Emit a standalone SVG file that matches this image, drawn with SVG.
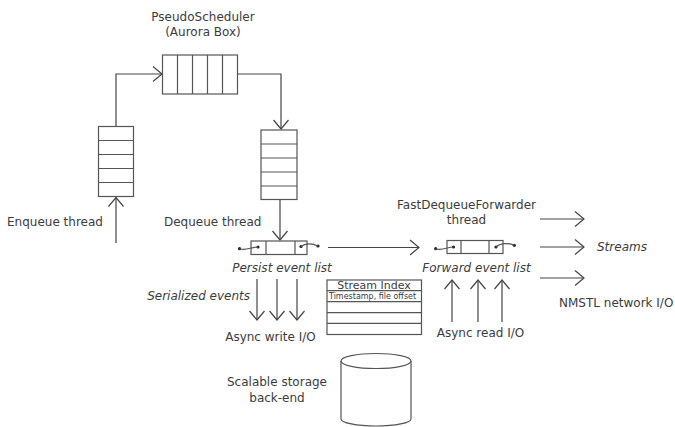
<svg xmlns="http://www.w3.org/2000/svg" width="675" height="427" viewBox="0 0 675 427">
<style>
text{font-family:"DejaVu Sans","Verdana",sans-serif;font-size:12px;fill:#3c3c3c}
.it{font-style:italic}
.box{fill:#fff;stroke:#555;stroke-width:1.2}
.ln{fill:none;stroke:#555;stroke-width:1.2}
.c{fill:none;stroke:#444;stroke-width:1.2}
.dot{fill:#222}
</style>
<defs>
<marker id="arr" markerUnits="userSpaceOnUse" viewBox="0 0 11 17" refX="10" refY="8.5" markerWidth="11" markerHeight="17" orient="auto">
<path d="M1,1 L10,8.5 L1,16" fill="none" stroke="#444" stroke-width="1.2"/>
</marker>
</defs>
<rect width="675" height="427" fill="#fff"/>

<g id="connectors">
<path class="c" d="M116,126.5 V74 H162" marker-end="url(#arr)"/>
<path class="c" d="M237.5,74 H281 V129" marker-end="url(#arr)"/>
<path class="c" d="M116,243 V197.5" marker-end="url(#arr)"/>
<path class="c" d="M280,199.5 V240" marker-end="url(#arr)"/>
<path class="c" d="M328,247.5 H419" marker-end="url(#arr)"/>
<path class="c" d="M257,279 V320" marker-end="url(#arr)"/>
<path class="c" d="M277,279 V320" marker-end="url(#arr)"/>
<path class="c" d="M297,279 V320" marker-end="url(#arr)"/>
<path class="c" d="M452,322 V280" marker-end="url(#arr)"/>
<path class="c" d="M478,322 V280" marker-end="url(#arr)"/>
<path class="c" d="M502,322 V280" marker-end="url(#arr)"/>
<path class="c" d="M540,219 H584" marker-end="url(#arr)"/>
<path class="c" d="M540,247 H584" marker-end="url(#arr)"/>
<path class="c" d="M540,278 H584" marker-end="url(#arr)"/>
</g>

<g id="pseudo-scheduler">
<rect class="box" x="162.5" y="55" width="75" height="39"/>
<path class="ln" d="M177.5,55V94M192.5,55V94M207.5,55V94M222.5,55V94"/>
<text x="203" y="21" text-anchor="middle">PseudoScheduler</text>
<text x="203" y="36" text-anchor="middle">(Aurora Box)</text>
</g>

<g id="enqueue-queue">
<rect class="box" x="98.5" y="126.5" width="35" height="70"/>
<path class="ln" d="M98.5,140.5H133.5M98.5,154.5H133.5M98.5,168.5H133.5M98.5,182.5H133.5"/>
<text x="7" y="226">Enqueue thread</text>
</g>

<g id="dequeue-queue">
<rect class="box" x="261" y="130" width="36" height="69.5"/>
<path class="ln" d="M261,144H297M261,158H297M261,172H297M261,186H297"/>
<text x="164" y="226">Dequeue thread</text>
</g>

<g id="persist-list">
<rect class="box" x="251" y="241" width="56" height="13.5"/>
<path class="ln" d="M266,241V254.5M295,241V254.5"/>
<circle class="dot" cx="258" cy="247" r="1.6"/>
<circle class="dot" cx="239.5" cy="248.7" r="1.6"/>
<path class="ln" d="M239.5,248.7 C246,251 251,247 258,247" stroke-width="1"/>
<circle class="dot" cx="301" cy="246.5" r="1.6"/>
<circle class="dot" cx="318" cy="246" r="1.6"/>
<path class="ln" d="M301,246.5 C305,243 312,243 318,246" stroke-width="1"/>
<text class="it" x="282" y="272" text-anchor="middle">Persist event list</text>
<text class="it" x="250" y="300" text-anchor="end">Serialized events</text>
<text x="270.5" y="341" text-anchor="middle">Async write I/O</text>
</g>

<g id="forward-list">
<rect class="box" x="447" y="240.5" width="56" height="13"/>
<path class="ln" d="M461,240.5V253.5M489,240.5V253.5"/>
<circle class="dot" cx="453.5" cy="247" r="1.6"/>
<circle class="dot" cx="435.7" cy="248.7" r="1.6"/>
<path class="ln" d="M435.7,248.7 C442,251 447,247 453.5,247" stroke-width="1"/>
<circle class="dot" cx="496" cy="247" r="1.6"/>
<circle class="dot" cx="514.3" cy="245.3" r="1.6"/>
<path class="ln" d="M496,247 C500,243 508,242.5 514.3,245.3" stroke-width="1"/>
<text x="466.5" y="209" text-anchor="middle">FastDequeueForwarder</text>
<text x="466.5" y="224" text-anchor="middle">thread</text>
<text class="it" x="476.5" y="272" text-anchor="middle">Forward event list</text>
<text x="480.5" y="337" text-anchor="middle">Async read I/O</text>
</g>

<g id="outputs">
<text class="it" x="597" y="251">Streams</text>
<text x="559" y="307">NMSTL network I/O</text>
</g>

<g id="stream-index">
<rect class="box" x="327" y="280" width="94.5" height="54.5"/>
<path class="ln" d="M327,290.7H421.5M327,301.7H421.5M327,312.7H421.5M327,323.3H421.5"/>
<text x="374" y="288.5" text-anchor="middle" style="font-size:11px">Stream Index</text>
<text x="329" y="298.5" style="font-size:8px">Timestamp, file offset</text>
</g>

<g id="storage">
<path class="ln" d="M341,361 V419 A35,7 0 0 0 411,419 V361"/>
<ellipse class="ln" cx="376" cy="361" rx="35" ry="7.5"/>
<text x="277" y="386" text-anchor="middle">Scalable storage</text>
<text x="277" y="402" text-anchor="middle">back-end</text>
</g>
</svg>
